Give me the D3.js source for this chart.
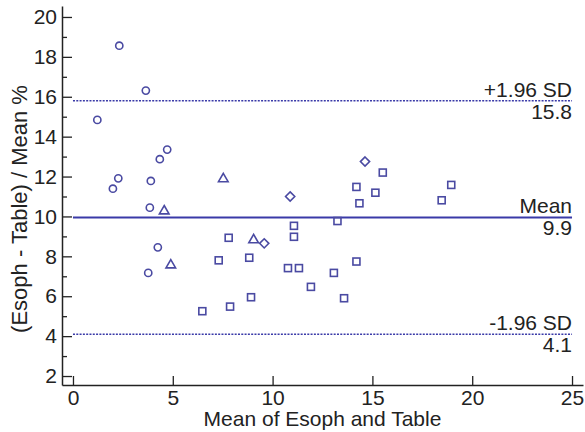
<!DOCTYPE html>
<html>
<head>
<meta charset="utf-8">
<script src="https://cdn.jsdelivr.net/npm/d3@7"></script>
<style>
  body { margin: 0; background: #fff; }
  svg text { font-family: "Liberation Sans", Arial, sans-serif; fill: #222; }
</style>
</head>
<body>
<div class="draw"></div>
<script>
const width = 585
const height = 432

// data: [mean of methods, difference %]
const circles = [[2.32, 18.56], [3.65, 16.31], [1.22, 14.84], [4.72, 13.35], [4.35, 12.87],
  [2.27, 11.91], [2.0, 11.39], [3.9, 11.78], [3.85, 10.44], [4.25, 8.45], [3.77, 7.17]]
const triangles = [[4.57, 10.27], [4.9, 7.56], [7.53, 11.88], [9.05, 8.82]]
const diamonds = [[14.63, 12.75], [10.88, 11.0], [9.58, 8.65]]
const squares = [[15.52, 12.2], [14.2, 11.48], [15.15, 11.19], [14.35, 10.66], [13.25, 9.77],
  [11.07, 9.53], [11.07, 8.98], [7.8, 8.93], [7.3, 7.8], [8.83, 7.93], [14.2, 7.74],
  [10.77, 7.41], [11.32, 7.41], [13.07, 7.17], [11.92, 6.47], [13.58, 5.9], [8.92, 5.95],
  [7.87, 5.48], [6.48, 5.25], [18.95, 11.58], [18.47, 10.81]]

const refLines = [
  {name: "+1.96 SD", value: 15.8, label: "15.8", dashed: true},
  {name: "Mean", value: 9.95, label: "9.9", dashed: false},
  {name: "-1.96 SD", value: 4.1, label: "4.1", dashed: true}
]

const xTicks = [0, 5, 10, 15, 20, 25]
const yTicks = [2, 4, 6, 8, 10, 12, 14, 16, 18, 20]
const yMinor = [3, 5, 7, 9, 11, 13, 15, 17, 19]

const markColor = "#4a4aa2"
const lineColor = "#3a3aa8"
const fontSize = "21px"

let svg = d3.select("div.draw")
  .append("svg")
  .attr("width", width)
  .attr("height", height)

let x = d3.scaleLinear().domain([-0.55, 25.55]).range([62, 583])
let y = d3.scaleLinear().domain([1.55, 20.55]).range([385, 6])

// reference lines
let refs = svg.selectAll("g.ref")
  .data(refLines)
  .enter()
  .append("g")
  .attr("class", "ref")

refs.append("line")
  .attr("x1", x(0))
  .attr("x2", x(25))
  .attr("y1", d => y(d.value))
  .attr("y2", d => y(d.value))
  .style("stroke", lineColor)
  .style("stroke-width", d => d.dashed ? 1.5 : 2)
  .style("stroke-dasharray", d => d.dashed ? "2,1.3" : null)

refs.append("text")
  .attr("x", x(25))
  .attr("y", d => y(d.value) - 4)
  .attr("text-anchor", "end")
  .style("font-size", fontSize)
  .text(d => d.name)

refs.append("text")
  .attr("x", x(25))
  .attr("y", d => y(d.value) + 18)
  .attr("text-anchor", "end")
  .style("font-size", fontSize)
  .text(d => d.label)

// axes
let xAxis = svg.append("g")
  .attr("transform", "translate(0," + y(1.55) + ")")
  .call(d3.axisBottom(x).tickValues(xTicks).tickSizeInner(-9).tickSizeOuter(0).tickPadding(5))

let yAxis = svg.append("g")
  .attr("transform", "translate(" + x(-0.55) + ",0)")
  .call(d3.axisLeft(y).tickValues(yTicks).tickSizeInner(-10).tickSizeOuter(0).tickPadding(5))

let yAxisMinor = svg.append("g")
  .attr("transform", "translate(" + x(-0.55) + ",0)")
  .call(d3.axisLeft(y).tickValues(yMinor).tickSizeInner(-5).tickSizeOuter(0).tickFormat(""))
yAxisMinor.select(".domain").remove()

svg.selectAll(".domain").style("stroke", "#222").style("stroke-width", 1.5)
svg.selectAll(".tick line").style("stroke", "#222").style("stroke-width", 1.3)
svg.selectAll(".tick text")
  .style("font-family", "'Liberation Sans', Arial, sans-serif")
  .style("font-size", fontSize)
  .style("fill", "#222")

// axis titles
svg.append("text")
  .attr("x", (x(-0.55) + x(25.55)) / 2)
  .attr("y", 426)
  .attr("text-anchor", "middle")
  .style("font-size", fontSize)
  .text("Mean of Esoph and Table")

svg.append("text")
  .attr("transform", "translate(27,209) rotate(-90)")
  .attr("text-anchor", "middle")
  .style("font-size", "22px")
  .text("(Esoph - Table) / Mean %")

// markers
let marks = svg.append("g")
  .style("fill", "none")
  .style("stroke", markColor)
  .style("stroke-width", 1.6)

marks.selectAll("circle")
  .data(circles)
  .enter()
  .append("circle")
  .attr("cx", d => x(d[0]))
  .attr("cy", d => y(d[1]))
  .attr("r", 3.6)

marks.selectAll("rect")
  .data(squares)
  .enter()
  .append("rect")
  .attr("x", d => x(d[0]) - 3.5)
  .attr("y", d => y(d[1]) - 3.5)
  .attr("width", 7)
  .attr("height", 7)

marks.selectAll("path.tri")
  .data(triangles)
  .enter()
  .append("path")
  .attr("class", "tri")
  .attr("d", d => d3.symbol(d3.symbolTriangle, 40)())
  .attr("transform", d => "translate(" + x(d[0]) + "," + y(d[1]) + ")")

marks.selectAll("path.dia")
  .data(diamonds)
  .enter()
  .append("path")
  .attr("class", "dia")
  .attr("d", "M0,-4.6L4.6,0L0,4.6L-4.6,0Z")
  .attr("transform", d => "translate(" + x(d[0]) + "," + y(d[1]) + ")")
</script>
</body>
</html>
